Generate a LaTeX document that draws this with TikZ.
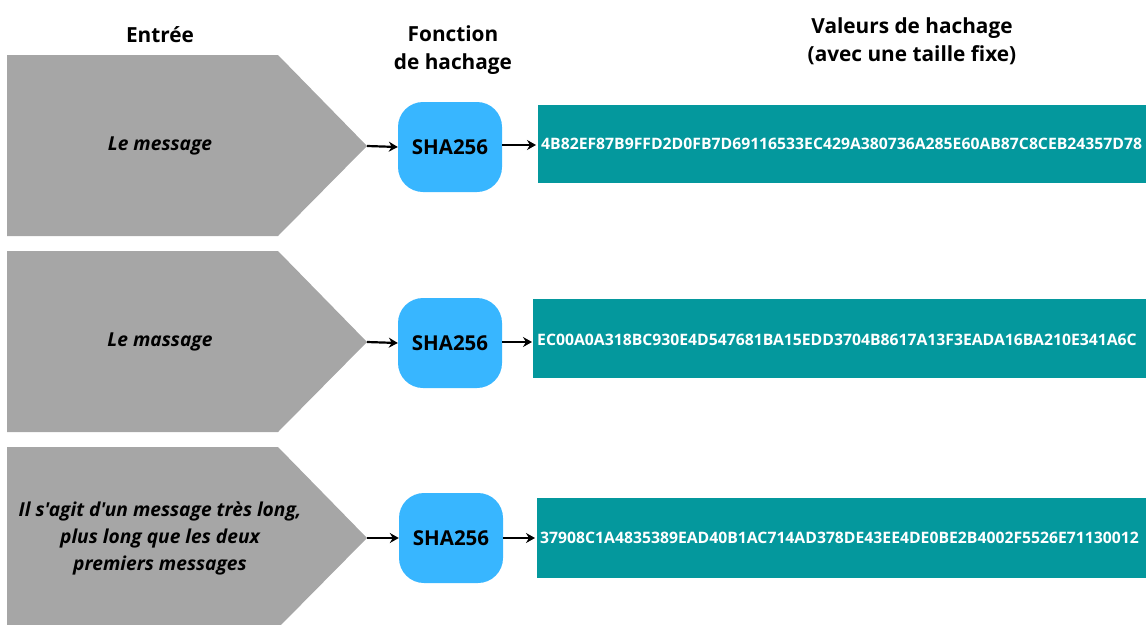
\documentclass[tikz,border=0pt]{standalone}
\usepackage{fontspec}
\setmainfont{Open Sans}
\newfontfamily\inputfont{Open Sans}[Ligatures=TeXOff]
\usetikzlibrary{arrows.meta}
\definecolor{inputgray}{HTML}{A6A6A6}
\definecolor{funcblue}{HTML}{38B6FF}
\definecolor{hashteal}{HTML}{04989D}
\tikzset{
  inshape/.style={fill=inputgray, draw=none},
  intext/.style={font=\inputfont\fontsize{19.2}{27}\selectfont\bfseries\itshape, align=center, text=black},
  funcbox/.style={fill=funcblue, draw=none, rounded corners=25pt, minimum width=104pt, minimum height=90pt,
    font=\fontsize{20.5}{25}\selectfont\bfseries, text=black, inner sep=0pt},
  hashbox/.style={fill=hashteal, draw=none},
  hashtext/.style={font=\fontsize{15.75}{18}\selectfont\bfseries, text=white, anchor=west, inner sep=0pt},
  header/.style={font=\fontsize{20.8}{28.5}\selectfont\bfseries, align=center, text=black},
  flow/.style={-{Stealth[length=9pt,width=10pt,inset=3pt]}, line width=2.2pt, black},
}
\begin{document}
\begin{tikzpicture}[x=1pt, y=-1pt]
\useasboundingbox (0,0) rectangle (1146,624);
\clip (0,0) rectangle (1146,624);

% column headers
\node[header] (hin) at (160,35) {Entrée};
\node[header] (hfn) at (453,50) {Fonction\\de hachage};
\node[header] (hout) at (912,41) {Valeurs de hachage\\(avec une taille fixe)};

% row 1
\fill[inshape] (7,55) -- (278,55) -- (367,146) -- (278,236) -- (7,236) -- cycle;
\coordinate (tip1) at (367,146);
\node[intext] (in1) at (160,146) {Le message};
\node[funcbox] (f1) at (450,147) {SHA256};
\fill[hashbox] (538,105) rectangle (1146,183);
\coordinate (h1) at (536,145);
\node[hashtext] (t1) at (541,144) {4B82EF87B9FFD2D0FB7D69116533EC429A380736A285E60AB87C8CEB24357D78};
\draw[flow] (tip1) -- (f1.west);
\draw[flow] (f1.east |- h1) -- (h1);

% row 2
\fill[inshape] (7,251) -- (278,251) -- (367,342) -- (278,432) -- (7,432) -- cycle;
\coordinate (tip2) at (367,342);
\node[intext] (in2) at (160,342) {Le massage};
\node[funcbox] (f2) at (450,343) {SHA256};
\fill[hashbox] (533,299) rectangle (1146,378);
\coordinate (h2) at (532,342);
\node[hashtext] (t2) at (537,340) {EC00A0A318BC930E4D547681BA15EDD3704B8617A13F3EADA16BA210E341A6C};
\draw[flow] (tip2) -- (f2.west);
\draw[flow] (f2.east |- h2) -- (h2);

% row 3
\fill[inshape] (7,447) -- (278,447) -- (367,538) -- (278,628) -- (7,628) -- cycle;
\coordinate (tip3) at (367,538);
\node[intext] (in3) at (160,538) {Il s'agit d'un message très long,\\plus long que les deux\\premiers messages};
\node[funcbox] (f3) at (451,538) {SHA256};
\fill[hashbox] (537,498) rectangle (1146,578);
\coordinate (h3) at (535,538);
\node[hashtext] (t3) at (540,538) {37908C1A4835389EAD40B1AC714AD378DE43EE4DE0BE2B4002F5526E71130012};
\draw[flow] (tip3) -- (f3.west);
\draw[flow] (f3.east |- h3) -- (h3);
\end{tikzpicture}
\end{document}
